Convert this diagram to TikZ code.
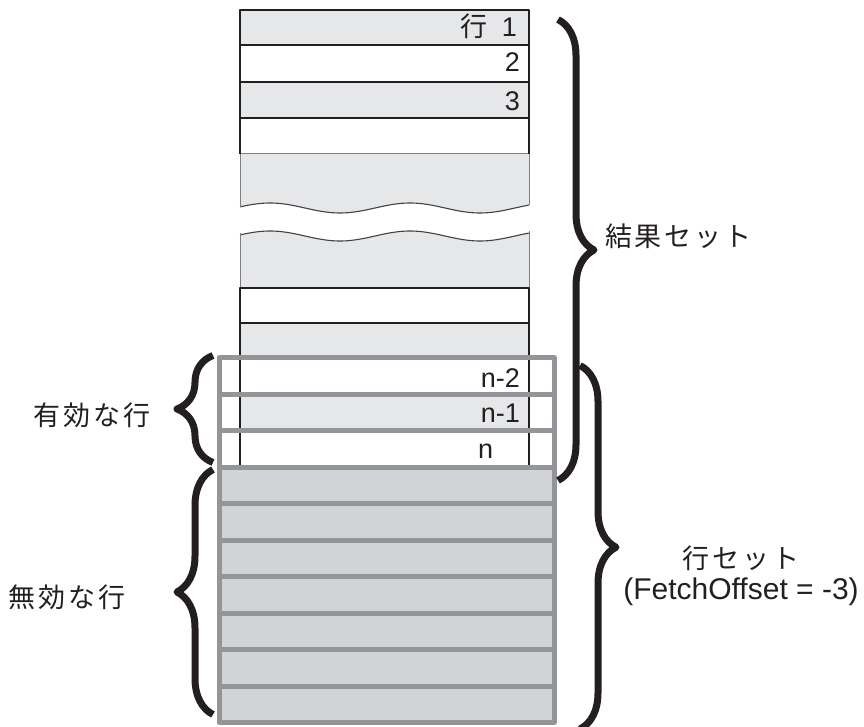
\documentclass[tikz,border=0pt]{standalone}
\usepackage{fontspec}
\setmainfont{Liberation Sans}
\newfontfamily\jp[LetterSpace=10]{Noto Sans CJK JP}
\usetikzlibrary{decorations.pathreplacing}
\definecolor{ink}{HTML}{231F20}
\definecolor{rowgray}{HTML}{E6E7E8}
\definecolor{offgray}{HTML}{D1D3D4}
\definecolor{framegray}{HTML}{939598}
\begin{document}
\begin{tikzpicture}[x=1pt,y=-1pt,font=\fontsize{27}{31}\selectfont,text=ink,line join=round,
	rowline/.style={draw=ink,line width=2.4pt},
	frameline/.style={draw=framegray,line width=5pt},
	curly/.style={decorate,decoration={brace,amplitude=36pt},line width=7pt,draw=ink},
	lbl/.style={inner sep=0pt}]
	\useasboundingbox (0,0) rectangle (864,727);
	\def\xl{240} \def\xr{529} % cột kết quả
	\def\fl{219} \def\fr{554} % khung hàng
	% nền các hàng
	\fill[rowgray] (\xl,10) rectangle (\xr,45) (\xl,82) rectangle (\xr,118)
	(\xl,323) rectangle (\xr,359) (\xl,395) rectangle (\xr,431);
	\fill[rowgray] (\xl,154) -- plot[domain=\xl:\xr,samples=80] (\x,{208-5*cos(2.5714*(\x-270))}) -- (\xr,154) -- cycle;
	\fill[rowgray] (\xl,288) -- plot[domain=\xl:\xr,samples=80] (\x,{236-5*cos(2.5714*(\x-270))}) -- (\xr,288) -- cycle;
	\draw[ink!85,line width=1.1pt] plot[domain=\xl:\xr,samples=80] (\x,{208-5*cos(2.5714*(\x-270))});
	\draw[ink!85,line width=1.1pt] plot[domain=\xl:\xr,samples=80] (\x,{236-5*cos(2.5714*(\x-270))});
	\draw[gray,line width=1pt] (\xl,154) -- (\xl,207) (\xr,154) -- (\xr,205) (\xl,233) -- (\xl,288) (\xr,231) -- (\xr,288)
	(\xl,154) -- (\xr,154);
	% đường kẻ đen
	\draw[rowline] (\xl,154) -- (\xl,10) -- (\xr,10) -- (\xr,154)
	(\xl,45) -- (\xr,45) (\xl,82) -- (\xr,82) (\xl,118) -- (\xr,118);
	\draw[rowline] (\xl,467) -- (\xl,288) -- (\xr,288) -- (\xr,467)
	(\xl,323) -- (\xr,323) (\xl,359) -- (\xr,359) (\xl,395) -- (\xr,395) (\xl,431) -- (\xr,431);
	% khung hàng
	\fill[offgray] (\fl,467) rectangle (\fr,722.5);
	\draw[frameline] (\fl,357.5) rectangle (\fr,722.5);
	\foreach \y in {394,430.5,...,686} \draw[frameline] (\fl,\y) -- (\fr,\y);
	% nhãn hàng
	\node[lbl,anchor=base east] (r1) at (517,37) {{\jp 行}\hspace{14pt}1};
	\node[lbl,anchor=base east] (r2) at (520,72) {2};
	\node[lbl,anchor=base east] (r3) at (520,111) {3};
	\node[lbl,anchor=base east] (rn2) at (520,387) {n-2};
	\node[lbl,anchor=base east] (rn1) at (520,422) {n-1};
	\node[lbl,anchor=base west] (rn) at (478,458) {n};
	% ngoặc
	\coordinate (kqa) at (558,19.5); \coordinate (kqb) at (558,480.5);
	\coordinate (hsa) at (580,365.5); \coordinate (hsb) at (580,729);
	\coordinate (hla) at (213,462.5); \coordinate (hlb) at (213,355.5);
	\coordinate (vla) at (213,714.5); \coordinate (vlb) at (213,469.5);
	\draw[curly] (kqa) -- (kqb);
	\draw[curly] (hsa) -- (hsb);
	\draw[curly] (hla) -- (hlb);
	\draw[curly] (vla) -- (vlb);
	\node[lbl,anchor=west] (kq) at (605,236) {\jp 結果セット};
	\node[lbl] (hl) at (92,415) {\jp 有効な行};
	\node[lbl] (vl) at (67,597) {\jp 無効な行};
	\node[lbl,align=center] (hs) at (741,576) {{\jp 行セット}\\\fontsize{30}{31}\selectfont(FetchOffset = -3)};
\end{tikzpicture}
\end{document}
